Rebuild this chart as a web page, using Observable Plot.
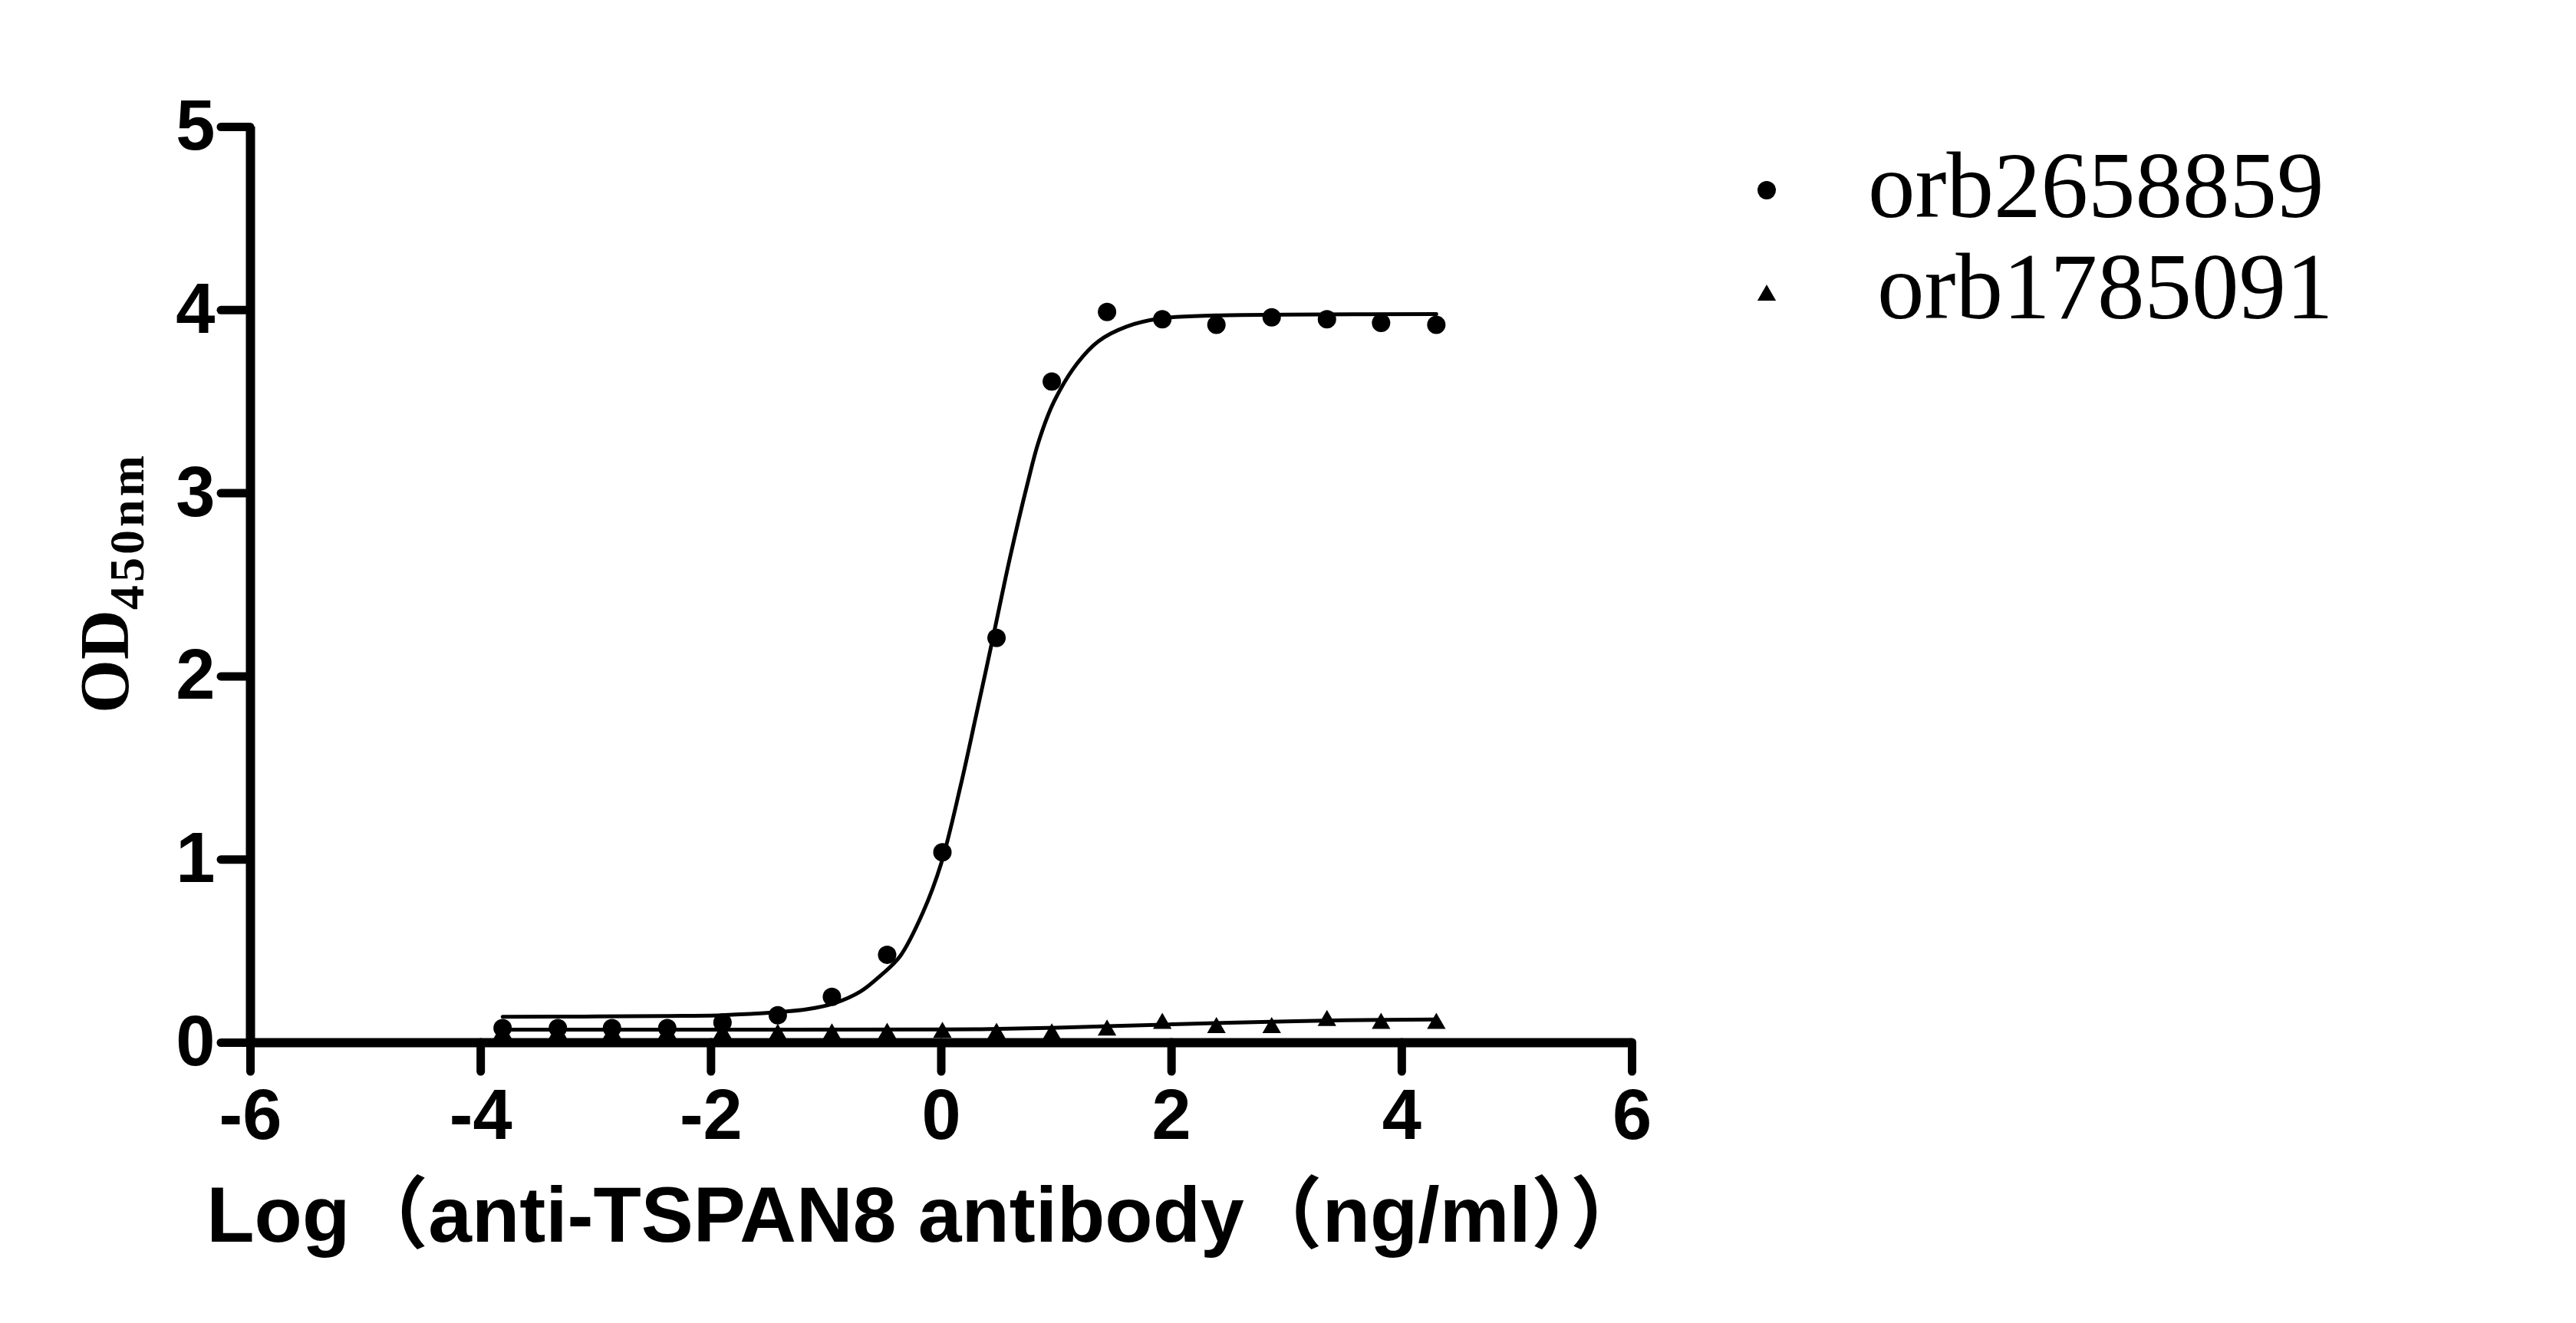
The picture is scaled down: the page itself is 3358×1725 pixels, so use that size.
<!DOCTYPE html>
<html>
<head>
<meta charset="utf-8">
<script src="https://cdn.jsdelivr.net/npm/d3@7"></script>
<script src="https://cdn.jsdelivr.net/npm/@observablehq/plot@0.6"></script>
<style>
  html, body { margin: 0; padding: 0; background: #fff; }
  #chart svg { display: block; }
</style>
</head>
<body>
<div id="chart"></div>
<script>
// ---- data ----
const logConc = [-3.81, -3.33, -2.86, -2.38, -1.90, -1.42, -0.95, -0.47, 0.01, 0.48, 0.96, 1.44, 1.92, 2.39, 2.87, 3.35, 3.82, 4.30];
const odOrb2658859 = [0.08, 0.08, 0.08, 0.08, 0.11, 0.15, 0.25, 0.48, 1.04, 2.21, 3.61, 3.99, 3.95, 3.92, 3.96, 3.95, 3.93, 3.92];
const odOrb1785091 = [0.05, 0.05, 0.05, 0.05, 0.05, 0.045, 0.047, 0.05, 0.055, 0.05, 0.047, 0.068, 0.105, 0.082, 0.082, 0.12, 0.105, 0.105];

const fitAx = [-3.81, -3.0, -2.4, -1.91, -1.43, -1.16, -0.93, -0.70, -0.53, -0.36, -0.16, 0.0, 0.167, 0.297, 0.452, 0.594, 0.748, 0.845, 0.979, 1.182, 1.365, 1.609, 1.913, 2.38, 2.989, 4.30];
const fitAy = [0.141, 0.143, 0.146, 0.150, 0.166, 0.183, 0.215, 0.28, 0.365, 0.47, 0.71, 0.98, 1.40, 1.77, 2.22, 2.64, 3.05, 3.28, 3.50, 3.71, 3.83, 3.91, 3.955, 3.971, 3.975, 3.978];
const fitBx = [-3.81, -1.5, 0, 0.5, 1.0, 1.5, 2.0, 2.5, 3.0, 3.5, 4.30];
const fitBy = [0.071, 0.071, 0.072, 0.075, 0.082, 0.091, 0.100, 0.109, 0.116, 0.122, 0.127];

const seriesNames = ["orb2658859", "orb1785091"];
const xTicks = [-6, -4, -2, 0, 2, 4, 6];
const yTicks = [0, 1, 2, 3, 4, 5];
const xLabel = "Log（anti-TSPAN8 antibody（ng/ml））";
const yLabelMain = "OD";
const yLabelSub = "450nm";

// ---- tables ----
const ptsA = logConc.map((x, i) => ({x, y: odOrb2658859[i]}));
const ptsB = logConc.map((x, i) => ({x, y: odOrb1785091[i]}));
const curveA = fitAx.map((x, i) => ({x, y: fitAy[i]}));
const curveB = fitBx.map((x, i) => ({x, y: fitBy[i]}));

const W = 3358, H = 1725;
const sans = "'Liberation Sans', Arial, 'Noto Sans CJK SC', sans-serif";
const serif = "'Liberation Serif', 'Times New Roman', serif";

const chart = Plot.plot({
  width: W,
  height: H,
  marginLeft: 326,
  marginRight: W - 2127,
  marginTop: 165,
  marginBottom: H - 1359,
  style: {fontFamily: sans, fontWeight: "bold", background: "#fff", color: "#000"},
  x: {domain: [-6, 6]},
  y: {domain: [0, 5]},
  marks: [
    Plot.axisX({ticks: xTicks, tickSize: 38, tickPadding: 22, fontSize: 92, fontWeight: "bold", strokeWidth: 11, strokeLinecap: "round", label: null, tickFormat: d => String(d)}),
    Plot.axisY({ticks: yTicks, tickSize: 38, tickPadding: 8, fontSize: 92, fontWeight: "bold", strokeWidth: 11, strokeLinecap: "round", label: null, tickFormat: d => String(d)}),
    Plot.ruleY([0], {strokeWidth: 12}),
    Plot.ruleX([-6], {strokeWidth: 12}),
    Plot.line(curveA, {x: "x", y: "y", stroke: "black", strokeWidth: 5, curve: "catmull-rom"}),
    Plot.line(curveB, {x: "x", y: "y", stroke: "black", strokeWidth: 5, curve: "catmull-rom"}),
    Plot.dot(ptsA, {x: "x", y: "y", r: 12, fill: "black", stroke: null}),
    Plot.dot(ptsB, {x: "x", y: "y", r: 9, symbol: "triangle", fill: "black", stroke: null}),
    Plot.text([xLabel], {frameAnchor: "bottom", text: d => d, dy: 227, dx: -18, lineAnchor: "middle", fontSize: 102, fontWeight: "bold", fill: "black"})
  ]
});

document.getElementById("chart").appendChild(chart);

// ---- y label with subscript ----
const svg = d3.select(chart);
const yl = svg.append("text")
  .attr("transform", "translate(167,760) rotate(-90)")
  .attr("text-anchor", "middle")
  .attr("font-family", serif)
  .attr("font-weight", "bold")
  .attr("fill", "black");
yl.append("tspan").attr("font-size", 90).text(yLabelMain);
yl.append("tspan").attr("font-size", 64).attr("dy", 20).attr("letter-spacing", 4).text(yLabelSub);

// ---- legend ----
const lg = svg.append("g").attr("text-anchor", "start");
lg.append("circle").attr("cx", 2303).attr("cy", 248).attr("r", 12).attr("fill", "black");
lg.append("path").attr("transform", "translate(2303,385)")
  .attr("d", d3.symbol(d3.symbolTriangle, Math.PI * 81)()).attr("fill", "black");
lg.append("text").attr("x", 2435).attr("y", 283).attr("text-anchor", "start").attr("font-family", serif).attr("font-weight", "normal")
  .attr("font-size", 123).attr("fill", "black").text(seriesNames[0]);
lg.append("text").attr("x", 2447).attr("y", 415).attr("text-anchor", "start").attr("font-family", serif).attr("font-weight", "normal")
  .attr("font-size", 123).attr("fill", "black").text(seriesNames[1]);
</script>
</body>
</html>
